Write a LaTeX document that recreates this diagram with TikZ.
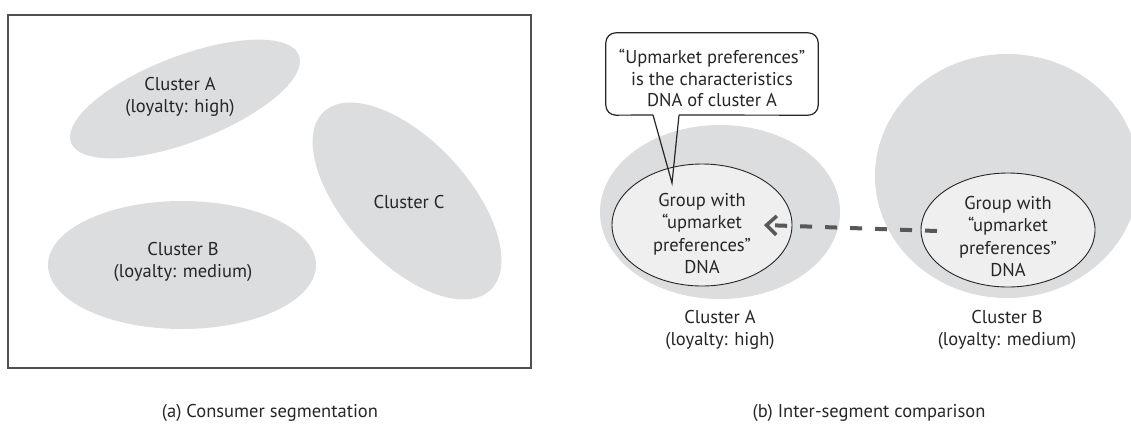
\documentclass[tikz,border=0pt]{standalone}
\usepackage{fontspec}
\setmainfont{PT Sans}
\usetikzlibrary{shapes.geometric,arrows.meta}
\definecolor{blob}{HTML}{DCDDDF}
\definecolor{core}{HTML}{EFEFEF}
\definecolor{ink}{HTML}{262626}
\definecolor{rule}{HTML}{505050}
\definecolor{arrowgrey}{HTML}{585858}

\begin{document}
\begin{tikzpicture}[x=1pt,y=-1pt,
  blobshape/.style={ellipse, fill=blob, draw=none, inner sep=0pt},
  coreshape/.style={ellipse, fill=core, draw=ink, line width=0.9pt, inner sep=0pt},
  txt/.style={text=ink, font=\fontsize{18.5}{22.5}\selectfont, align=center, inner sep=0pt},
  caption/.style={txt},
  outline/.style={draw=ink, line width=1.2pt}
]
\useasboundingbox (0,0) rectangle (1131,424);
\clip (0,0) rectangle (1131,424);

% ---------- (a) consumer segmentation ----------
\node[draw=rule, line width=1.6pt, minimum width=523, minimum height=353, inner sep=0pt] (frameA) at (269.5,191.5) {};

\node[blobshape, minimum width=244, minimum height=86, rotate=21] (clA) at (185,99) {};
\node[blobshape, minimum width=268, minimum height=128] (clB) at (182,265) {};
\node[blobshape, minimum width=244, minimum height=122, rotate=-47] (clC) at (407,201) {};

\node[txt] (tA) at (180,97) {Cluster A\\(loyalty: high)};
\node[txt] (tB) at (183,262) {Cluster B\\(loyalty: medium)};
\node[txt] (tC) at (409,202) {Cluster C};

\node[caption] (capA) at (270,413) {(a) Consumer segmentation};

% ---------- (b) inter-segment comparison ----------
\node[blobshape, minimum width=240, minimum height=174] (bigA) at (720,212) {};
\node[blobshape, minimum width=264, minimum height=244] (bigB) at (1007,176) {};

\node[coreshape, minimum width=180, minimum height=122] (grpA) at (702,225) {};
\node[coreshape, minimum width=174, minimum height=114] (grpB) at (1008,230) {};

\node[txt] (tgA) at (702,233.5) {Group with\\“upmarket\\preferences”\\DNA};
\node[txt] (tgB) at (1008,236.5) {Group with\\“upmarket\\preferences”\\DNA};

\node[txt] (lA) at (720,330) {Cluster A\\(loyalty: high)};
\node[txt] (lB) at (1007,330) {Cluster B\\(loyalty: medium)};

% speech bubble
\node[fill=white, rounded corners=10pt, minimum width=212, minimum height=82, inner sep=0pt] (note) at (712,74) {};
\node[txt, font=\fontsize{18.5}{21.5}\selectfont] (noteText) at (712,78) {“Upmarket preferences”\\is the characteristics\\DNA of cluster A};
\coordinate (tailL) at (653,115);
\coordinate (tailR) at (679,115);
\coordinate (tip) at (672,183);
\draw[outline, rounded corners=10pt] (tailL) -- (note.south west) -- (note.north west) -- (note.north east) -- (note.south east) -- (tailR);
\draw[outline, line join=miter] (tailL) -- (tip) -- (tailR);

% comparison arrow
\coordinate (src) at (937,231);
\coordinate (dst) at (764,225);
\draw[arrowgrey, line width=4pt, dash pattern=on 12pt off 13pt,
      -{Straight Barb[length=10pt,width=19pt,line width=3.5pt]}] (src) -- (dst);

\node[caption] (capB) at (869,413) {(b) Inter-segment comparison};
\end{tikzpicture}
\end{document}
